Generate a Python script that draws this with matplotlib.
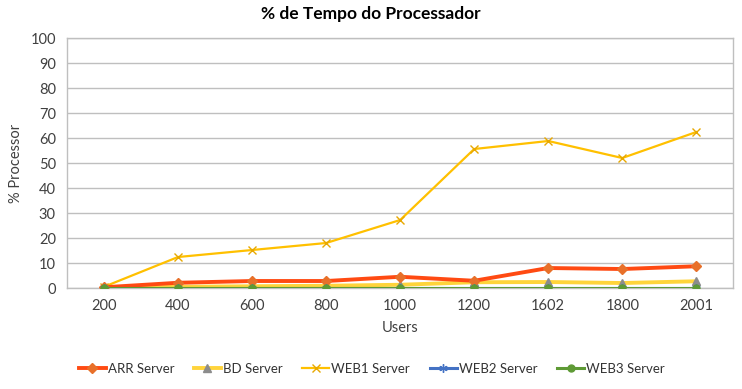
import matplotlib
matplotlib.use("Agg")
import matplotlib.pyplot as plt

users = ["200", "400", "600", "800", "1000", "1200", "1602", "1800", "2001"]
arr = [0.3, 2.1, 2.8, 2.8, 4.5, 2.9, 8.0, 7.6, 8.7]
bd = [0.0, 0.5, 0.7, 0.9, 1.3, 2.3, 2.4, 2.0, 2.7]
web1 = [0.5, 12.4, 15.2, 18.0, 27.2, 55.6, 58.8, 52.0, 62.4]
web2 = [0.0, 0.0, 0.0, 0.0, 0.0, 0.0, 0.0, 0.0, 0.0]
web3 = [0.0, 0.0, 0.0, 0.0, 0.0, 0.0, 0.0, 0.0, 0.0]
yticks = [0, 10, 20, 30, 40, 50, 60, 70, 80, 90, 100]

plt.rcParams['font.family'] = ['Lato', 'DejaVu Sans']

fig = plt.figure(figsize=(7.42, 3.89), dpi=100)
ax = fig.add_axes([0.0903, 0.2596, 0.898, 0.6427])
x = list(range(len(users)))

ax.plot(x, arr, color="#FF4A12", lw=2.8, marker="D", ms=5, mfc="#E8702A", mec="#E8702A", label="ARR Server", zorder=4)
ax.plot(x, bd, color="#FFD43B", lw=2.8, marker="^", ms=6, mfc="#8C8C8C", mec="#8C8C8C", label="BD Server", zorder=3)
ax.plot(x, web1, color="#FFC000", lw=1.6, marker="x", ms=6, mew=1.0, mfc="#FFC000", mec="#E8A800", label="WEB1 Server", zorder=3)
ax.plot(x, web2, color="#4472C4", lw=2.2, marker=(6, 2, 0), ms=6, mec="#4472C4", label="WEB2 Server", zorder=4)
ax.plot(x, web3, color="#5E9A35", lw=2.2, marker="o", ms=5, mfc="#5E9A35", mec="#5E9A35", label="WEB3 Server", zorder=5)

ax.set_xlim(-0.5, len(users) - 0.5)
ax.set_ylim(0, 100)
ax.set_yticks(yticks)
ax.set_xticks(x)
ax.set_xticklabels(users)
ax.tick_params(axis='both', length=0, labelsize=10.5, colors="#404040", pad=8)
ax.yaxis.grid(True, color="#BFBFBF", lw=1)
ax.set_axisbelow(True)
for s in ax.spines.values():
    s.set_color("#BFBFBF")
    s.set_linewidth(1)

ax.set_xlabel("Users", fontsize=10.5, color="#404040", labelpad=6)
ax.set_ylabel("% Processor", fontsize=10.5, color="#404040", labelpad=5.5)
fig.suptitle("% de Tempo do Processador", fontsize=12.5, fontweight="bold", color="black", y=0.985)

leg = fig.legend(loc="center", bbox_to_anchor=(0.501, 0.052), ncol=5, frameon=False,
                 fontsize=9.5, handlelength=2.05, columnspacing=1.5, handletextpad=0.15)
for t in leg.get_texts():
    t.set_color("#333333")

fig.savefig("out.png", dpi=100)
